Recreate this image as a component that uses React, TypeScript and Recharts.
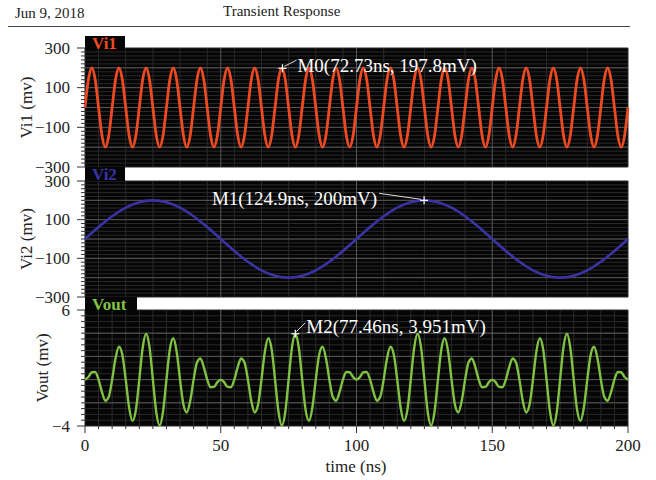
import { LineChart, Line, XAxis, YAxis, CartesianGrid, ReferenceDot } from "recharts";

// time axis (ns) for the fast signals
const TIME_FINE = [
  0, 1.25, 2.5, 3.75, 5, 6.25, 7.5, 8.75,
  10, 11.25, 12.5, 13.75, 15, 16.25, 17.5, 18.75,
  20, 21.25, 22.5, 23.75, 25, 26.25, 27.5, 28.75,
  30, 31.25, 32.5, 33.75, 35, 36.25, 37.5, 38.75,
  40, 41.25, 42.5, 43.75, 45, 46.25, 47.5, 48.75,
  50, 51.25, 52.5, 53.75, 55, 56.25, 57.5, 58.75,
  60, 61.25, 62.5, 63.75, 65, 66.25, 67.5, 68.75,
  70, 71.25, 72.5, 73.75, 75, 76.25, 77.5, 78.75,
  80, 81.25, 82.5, 83.75, 85, 86.25, 87.5, 88.75,
  90, 91.25, 92.5, 93.75, 95, 96.25, 97.5, 98.75,
  100, 101.25, 102.5, 103.75, 105, 106.25, 107.5, 108.75,
  110, 111.25, 112.5, 113.75, 115, 116.25, 117.5, 118.75,
  120, 121.25, 122.5, 123.75, 125, 126.25, 127.5, 128.75,
  130, 131.25, 132.5, 133.75, 135, 136.25, 137.5, 138.75,
  140, 141.25, 142.5, 143.75, 145, 146.25, 147.5, 148.75,
  150, 151.25, 152.5, 153.75, 155, 156.25, 157.5, 158.75,
  160, 161.25, 162.5, 163.75, 165, 166.25, 167.5, 168.75,
  170, 171.25, 172.5, 173.75, 175, 176.25, 177.5, 178.75,
  180, 181.25, 182.5, 183.75, 185, 186.25, 187.5, 188.75,
  190, 191.25, 192.5, 193.75, 195, 196.25, 197.5, 198.75,
  200,
];

// Vi1 (mV)
const VI1 = [
  0, 141, 200, 141, 0, -141, -200, -141,
  0, 141, 200, 141, 0, -141, -200, -141,
  0, 141, 200, 141, 0, -141, -200, -141,
  0, 141, 200, 141, 0, -141, -200, -141,
  0, 141, 200, 141, 0, -141, -200, -141,
  0, 141, 200, 141, 0, -141, -200, -141,
  0, 141, 200, 141, 0, -141, -200, -141,
  0, 141, 198, 141, 0, -141, -200, -141,
  0, 141, 200, 141, 0, -141, -200, -141,
  0, 141, 200, 141, 0, -141, -200, -141,
  0, 141, 200, 141, 0, -141, -200, -141,
  0, 141, 200, 141, 0, -141, -200, -141,
  0, 141, 200, 141, 0, -141, -200, -141,
  0, 141, 200, 141, 0, -141, -200, -141,
  0, 141, 200, 141, 0, -141, -200, -141,
  0, 141, 200, 141, 0, -141, -200, -141,
  0, 141, 200, 141, 0, -141, -200, -141,
  0, 141, 200, 141, 0, -141, -200, -141,
  0, 141, 200, 141, 0, -141, -200, -141,
  0, 141, 200, 141, 0, -141, -200, -141,
  0,
];

// Vout (mV)
const VOUT = [
  0, 0.22, 0.63, 0.66, 0, -1.08, -1.82, -1.48,
  0, 1.84, 2.83, 2.15, 0, -2.41, -3.56, -2.61,
  0, 2.75, 3.95, 2.82, 0, -2.82, -3.95, -2.75,
  0, 2.61, 3.56, 2.41, 0, -2.15, -2.83, -1.84,
  0, 1.48, 1.82, 1.08, 0, -0.66, -0.63, -0.22,
  0, -0.22, -0.63, -0.66, 0, 1.08, 1.82, 1.48,
  0, -1.84, -2.83, -2.15, 0, 2.41, 3.56, 2.61,
  0, -2.75, -3.95, -2.82, 0, 2.82, 3.95, 2.75,
  0, -2.61, -3.56, -2.41, 0, 2.15, 2.83, 1.84,
  0, -1.48, -1.82, -1.08, 0, 0.66, 0.63, 0.22,
  0, 0.22, 0.63, 0.66, 0, -1.08, -1.82, -1.48,
  0, 1.84, 2.83, 2.15, 0, -2.41, -3.56, -2.61,
  0, 2.75, 3.95, 2.82, 0, -2.82, -3.95, -2.75,
  0, 2.61, 3.56, 2.41, 0, -2.15, -2.83, -1.84,
  0, 1.48, 1.82, 1.08, 0, -0.66, -0.63, -0.22,
  0, -0.22, -0.63, -0.66, 0, 1.08, 1.82, 1.48,
  0, -1.84, -2.83, -2.15, 0, 2.41, 3.56, 2.61,
  0, -2.75, -3.95, -2.82, 0, 2.82, 3.95, 2.75,
  0, -2.61, -3.56, -2.41, 0, 2.15, 2.83, 1.84,
  0, -1.48, -1.82, -1.08, 0, 0.66, 0.63, 0.22,
  0,
];

// slow signal
const TIME_COARSE = [
  0, 5, 10, 15, 20, 25, 30, 35, 40, 45,
  50, 55, 60, 65, 70, 75, 80, 85, 90, 95,
  100, 105, 110, 115, 120, 125, 130, 135, 140, 145,
  150, 155, 160, 165, 170, 175, 180, 185, 190, 195,
  200,
];
const VI2 = [
  0, 62, 118, 162, 190, 200, 190, 162, 118, 62,
  0, -62, -118, -162, -190, -200, -190, -162, -118, -62,
  0, 62, 118, 162, 190, 200, 190, 162, 118, 62,
  0, -62, -118, -162, -190, -200, -190, -162, -118, -62,
  0,
];

// ticks / grid
const X_TICKS = [
  0, 5, 10, 15, 20, 25, 30, 35, 40, 45, 50, 55, 60, 65, 70, 75, 80, 85, 90, 95, 100,
  105, 110, 115, 120, 125, 130, 135, 140, 145, 150, 155, 160, 165, 170, 175, 180, 185, 190, 195, 200,
];
const X_LABELS = [0, 50, 100, 150, 200];
const X_GRID_MAJOR = [50, 100, 150];

const MV_TICKS = [
  300, 280, 260, 240, 220, 200, 180, 160, 140, 120, 100, 80, 60, 40, 20, 0,
  -20, -40, -60, -80, -100, -120, -140, -160, -180, -200, -220, -240, -260, -280, -300,
];
const MV_LABELS = [300, 100, -100, -300];
const MV_GRID_MAJOR = [200, 100, 0, -100, -200];

const VOUT_TICKS = [6, 5.5, 5, 4.5, 4, 3.5, 3, 2.5, 2, 1.5, 1, 0.5, 0, -0.5, -1, -1.5, -2, -2.5, -3, -3.5, -4];
const VOUT_LABELS = [6, -4];
const VOUT_GRID_MAJOR = [4, 2, 0, -2];

// markers
const MARKER_T = [72.73, 124.9, 77.46];
const MARKER_V = [197.8, 200, 3.951];
const MARKER_TEXT = ["M0(72.73ns, 197.8mV)", "M1(124.9ns, 200mV)", "M2(77.46ns, 3.951mV)"];

const fineData = TIME_FINE.map((t, i) => ({ t, vi1: VI1[i], vout: VOUT[i] }));
const coarseData = TIME_COARSE.map((t, i) => ({ t, vi2: VI2[i] }));

const FONT = "'Liberation Serif', 'DejaVu Serif', serif";
const PLOT_LEFT = 85;
const PLOT_BOTTOM = 426;
const C_VI1 = "#ee4a22";
const C_VI2 = "#3a33a6";
const C_VOUT = "#80c242";

const fmt = (v: number) => (v < 0 ? "\u2212" + Math.abs(v) : String(v));

function makeYTick(labels: number[]) {
  return (props: any) => {
    const { y, payload } = props;
    const major = labels.includes(payload.value);
    return (
      <g>
        <line x1={PLOT_LEFT - (major ? 8 : 4)} x2={PLOT_LEFT} y1={y} y2={y} stroke="#333" strokeWidth={1} />
        {major && (
          <text x={PLOT_LEFT - 15} y={y} textAnchor="end" dominantBaseline="central" fontFamily={FONT} fontSize={17} fill="#222">
            {fmt(payload.value)}
          </text>
        )}
      </g>
    );
  };
}

function XTick(props: any) {
  const { x, payload } = props;
  const major = X_LABELS.includes(payload.value);
  return (
    <g>
      <line x1={x} x2={x} y1={PLOT_BOTTOM} y2={PLOT_BOTTOM + (major ? 7 : 3)} stroke="#333" strokeWidth={1} />
      {major && (
        <text x={x} y={PLOT_BOTTOM + 19} textAnchor="middle" dominantBaseline="central" fontFamily={FONT} fontSize={17} fill="#222">
          {payload.value}
        </text>
      )}
    </g>
  );
}

function yLabel(text: string, lx: number) {
  return {
    content: (p: any) => {
      const vb = p.viewBox || {};
      const cy = (vb.y ?? 0) + (vb.height ?? 0) / 2;
      return (
        <text x={lx} y={cy} transform={`rotate(-90 ${lx} ${cy})`} textAnchor="middle" dominantBaseline="central" fontFamily={FONT} fontSize={17} fill="#222">
          {text}
        </text>
      );
    },
  };
}

// white cross + leader + label, offsets per marker
function markerShape(idx: number) {
  return (p: any) => {
    const { cx, cy } = p;
    let lead: number[];
    let tx: number;
    let ty: number;
    let anchor: "start" | "end";
    if (idx === 0) {
      lead = [cx + 2, cy - 2, cx + 14, cy - 8];
      tx = cx + 15; ty = cy - 3; anchor = "start";
    } else if (idx === 1) {
      lead = [cx - 45, cy - 7, cx - 3, cy - 1];
      tx = cx - 47; ty = cy - 2; anchor = "end";
    } else {
      lead = [cx + 1, cy - 2, cx + 10, cy - 11];
      tx = cx + 11; ty = cy - 7; anchor = "start";
    }
    return (
      <g>
        <g stroke="#fff" strokeWidth={1.2}>
          <line x1={cx - 4} x2={cx + 4} y1={cy} y2={cy} />
          <line x1={cx} x2={cx} y1={cy - 4} y2={cy + 4} />
        </g>
        <line x1={lead[0]} y1={lead[1]} x2={lead[2]} y2={lead[3]} stroke="#ddd" strokeWidth={1} />
        <text x={tx} y={ty} textAnchor={anchor} dominantBaseline="central" fontFamily={FONT} fontSize={19} fill="#fff">
          {MARKER_TEXT[idx]}
        </text>
      </g>
    );
  };
}

function Tab({ text, color, top, width }: { text: string; color: string; top: number; width: number }) {
  return (
    <div
      style={{
        position: "absolute",
        left: 85,
        top,
        width,
        height: 14,
        background: "#050505",
        color,
        fontFamily: FONT,
        fontWeight: "bold",
        fontSize: 17,
        lineHeight: "15px",
        paddingLeft: 7,
        boxSizing: "border-box",
      }}
    >
      {text}
    </div>
  );
}

const layer = { position: "absolute" as const, left: 0, top: 0 };

export default function App() {
  return (
    <div style={{ position: "absolute", left: 0, top: 0, width: 656, height: 480, background: "#fff", overflow: "hidden" }}>
      <div style={{ position: "absolute", left: 15, top: 3, fontFamily: FONT, fontSize: 15, lineHeight: "20px", color: "#222" }}>
        Jun 9, 2018
      </div>
      <div style={{ position: "absolute", left: 223, top: 1, fontFamily: FONT, fontSize: 15, lineHeight: "20px", color: "#222" }}>
        Transient Response
      </div>
      <div style={{ position: "absolute", left: 8, top: 26, width: 622, height: 1, background: "#444" }} />

      {/* Vi1 */}
      <div style={layer}>
        <LineChart width={656} height={480} data={fineData} margin={{ top: 48, right: 28, bottom: 313, left: 0 }}>
          <CartesianGrid fill="#050505" stroke="#2a2a2a" horizontalValues={MV_TICKS} verticalValues={X_TICKS} />
          <CartesianGrid stroke="#575757" horizontalValues={MV_GRID_MAJOR} verticalValues={X_GRID_MAJOR} />
          <XAxis type="number" dataKey="t" domain={[0, 200]} ticks={X_TICKS} hide />
          <YAxis
            type="number"
            domain={[-300, 300]}
            ticks={MV_TICKS}
            interval={0}
            width={85}
            axisLine={false}
            tickLine={false}
            tick={makeYTick(MV_LABELS)}
            label={yLabel("Vi1 (mv)", 26)}
          />
          <Line type="monotone" dataKey="vi1" stroke={C_VI1} strokeWidth={2.8} dot={false} isAnimationActive={false} />
          <ReferenceDot x={MARKER_T[0]} y={MARKER_V[0]} r={0} shape={markerShape(0)} />
        </LineChart>
      </div>

      {/* Vi2 */}
      <div style={layer}>
        <LineChart width={656} height={480} data={coarseData} margin={{ top: 181, right: 28, bottom: 183, left: 0 }}>
          <CartesianGrid fill="#050505" stroke="#2a2a2a" horizontalValues={MV_TICKS} verticalValues={X_TICKS} />
          <CartesianGrid stroke="#575757" horizontalValues={MV_GRID_MAJOR} verticalValues={X_GRID_MAJOR} />
          <XAxis type="number" dataKey="t" domain={[0, 200]} ticks={X_TICKS} hide />
          <YAxis
            type="number"
            domain={[-300, 300]}
            ticks={MV_TICKS}
            interval={0}
            width={85}
            axisLine={false}
            tickLine={false}
            tick={makeYTick(MV_LABELS)}
            label={yLabel("Vi2 (mv)", 26)}
          />
          <Line type="monotone" dataKey="vi2" stroke={C_VI2} strokeWidth={2.6} dot={false} isAnimationActive={false} />
          <ReferenceDot x={MARKER_T[1]} y={MARKER_V[1]} r={0} shape={markerShape(1)} />
        </LineChart>
      </div>

      {/* Vout */}
      <div style={layer}>
        <LineChart width={656} height={480} data={fineData} margin={{ top: 310, right: 28, bottom: 24, left: 0 }}>
          <CartesianGrid fill="#050505" stroke="#2a2a2a" horizontalValues={VOUT_TICKS} verticalValues={X_TICKS} />
          <CartesianGrid stroke="#575757" horizontalValues={VOUT_GRID_MAJOR} verticalValues={X_GRID_MAJOR} />
          <XAxis
            type="number"
            dataKey="t"
            domain={[0, 200]}
            ticks={X_TICKS}
            interval={0}
            height={30}
            axisLine={false}
            tickLine={false}
            tick={XTick}
            label={{
              content: () => (
                <text x={356} y={466} textAnchor="middle" dominantBaseline="central" fontFamily={FONT} fontSize={17} fill="#222">
                  time (ns)
                </text>
              ),
            }}
          />
          <YAxis
            type="number"
            domain={[-4, 6]}
            ticks={VOUT_TICKS}
            interval={0}
            width={85}
            axisLine={false}
            tickLine={false}
            tick={makeYTick(VOUT_LABELS)}
            label={yLabel("Vout (mv)", 42)}
          />
          <Line type="monotone" dataKey="vout" stroke={C_VOUT} strokeWidth={2.4} dot={false} isAnimationActive={false} />
          <ReferenceDot x={MARKER_T[2]} y={MARKER_V[2]} r={0} shape={markerShape(2)} />
        </LineChart>
      </div>

      <Tab text="Vi1" color={C_VI1} top={36} width={40} />
      <Tab text="Vi2" color={C_VI2} top={167} width={40} />
      <Tab text="Vout" color={C_VOUT} top={297} width={52} />
    </div>
  );
}
